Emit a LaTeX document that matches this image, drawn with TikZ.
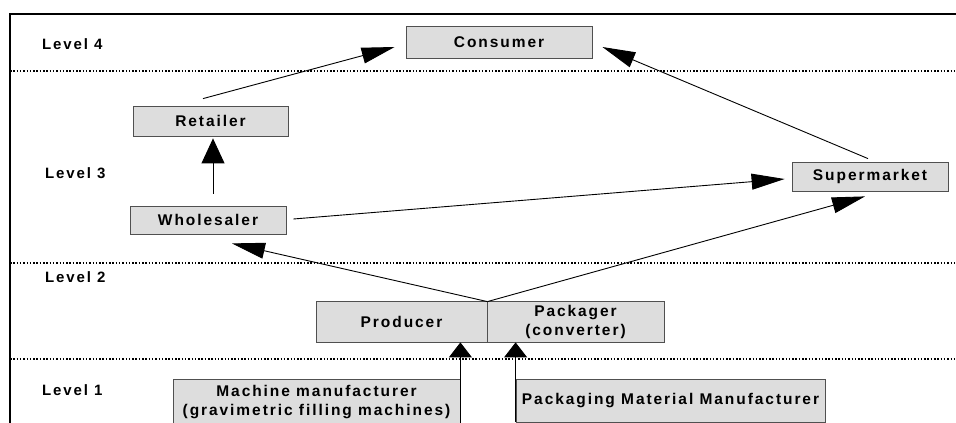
\documentclass[tikz,border=0pt]{standalone}
\usepackage{fontspec}
\newfontfamily\lblfont[LetterSpace=12.5]{Liberation Sans}
\usetikzlibrary{arrows.meta}
\definecolor{boxfill}{HTML}{DDDDDD}
\definecolor{boxline}{HTML}{505050}
\tikzset{
  box/.style={draw=boxline, fill=boxfill, line width=0.8pt, inner sep=0pt,
    align=center, font=\lblfont\bfseries\fontsize{15.5}{19}\selectfont},
  lvl/.style={anchor=west, inner sep=0pt, font=\lblfont\bfseries\fontsize{15}{17}\selectfont},
  dotline/.style={line width=1.5pt, dash pattern=on 1.5pt off 1.8pt},
  arr/.style={line width=0.9pt, -{Triangle[length=33pt,width=16pt]}},
  varr/.style={line width=0.9pt, -{Triangle[length=25pt,width=23pt]}},
  sarr/.style={line width=0.9pt, -{Triangle[length=15pt,width=23pt]}}
}
\begin{document}
\begin{tikzpicture}[x=1pt,y=-1pt]
\useasboundingbox (0,0) rectangle (956,423);
\clip (0,0) rectangle (956,423);
% frame
\draw[line width=1.5pt] (10,440) -- (10,14) -- (970,14);
% level separators
\draw[dotline] (10,71) -- (960,71);
\draw[dotline] (10,263) -- (960,263);
\draw[dotline] (10,359) -- (960,359);
% level labels
\node[lvl] (l4) at (42,44) {Level 4};
\node[lvl] (l3) at (45,173) {Level 3};
\node[lvl] (l2) at (45,277) {Level 2};
\node[lvl] (l1) at (42,390) {Level 1};
% boxes
\node[box, minimum width=186pt, minimum height=32pt] (consumer) at (499,42) {Consumer};
\node[box, minimum width=155pt, minimum height=30pt] (retailer) at (210.5,121) {Retailer};
\node[box, minimum width=156pt, minimum height=28pt] (wholesaler) at (208,220) {Wholesaler};
\node[box, minimum width=156pt, minimum height=29pt] (supermarket) at (870,176.5) {Supermarket};
\node[box, minimum width=171pt, minimum height=41pt] (producer) at (401.5,321.5) {Producer};
\node[box, minimum width=177pt, minimum height=41pt] (packager) at (575.5,321.5) {Packager\\(converter)};
\node[box, minimum width=287pt, minimum height=47pt] (machine) at (316.5,402.5) {Machine manufacturer\\(gravimetric filling machines)};
\node[box, minimum width=309pt, minimum height=43pt] (packaging) at (670.5,400.5) {Packaging Material Manufacturer};
% connectors
\draw[arr] ([shift={(-7.5,-7)}]retailer.north) -- ([shift={(-11,5)}]consumer.west);
\draw[arr] ([shift={(-2,-3)}]supermarket.north) -- ([shift={(10,5)}]consumer.east);
\draw[varr] ([shift={(5,-12)}]wholesaler.north) -- ([shift={(2.5,2)}]retailer.south);
\draw[arr] ([shift={(7,-1)}]wholesaler.east) -- ([shift={(-7,2.5)}]supermarket.west);
\coordinate (junc) at ([yshift=-1]producer.north east);
\draw[arr] (junc) -- ([shift={(24,9)}]wholesaler.south);
\draw[arr] (junc) -- ([shift={(-5,5)}]supermarket.south);
\draw[sarr] (machine.south east) -- (machine.east |- producer.south);
\draw[sarr] (packaging.south west) -- (packaging.west |- packager.south);
\end{tikzpicture}
\end{document}
